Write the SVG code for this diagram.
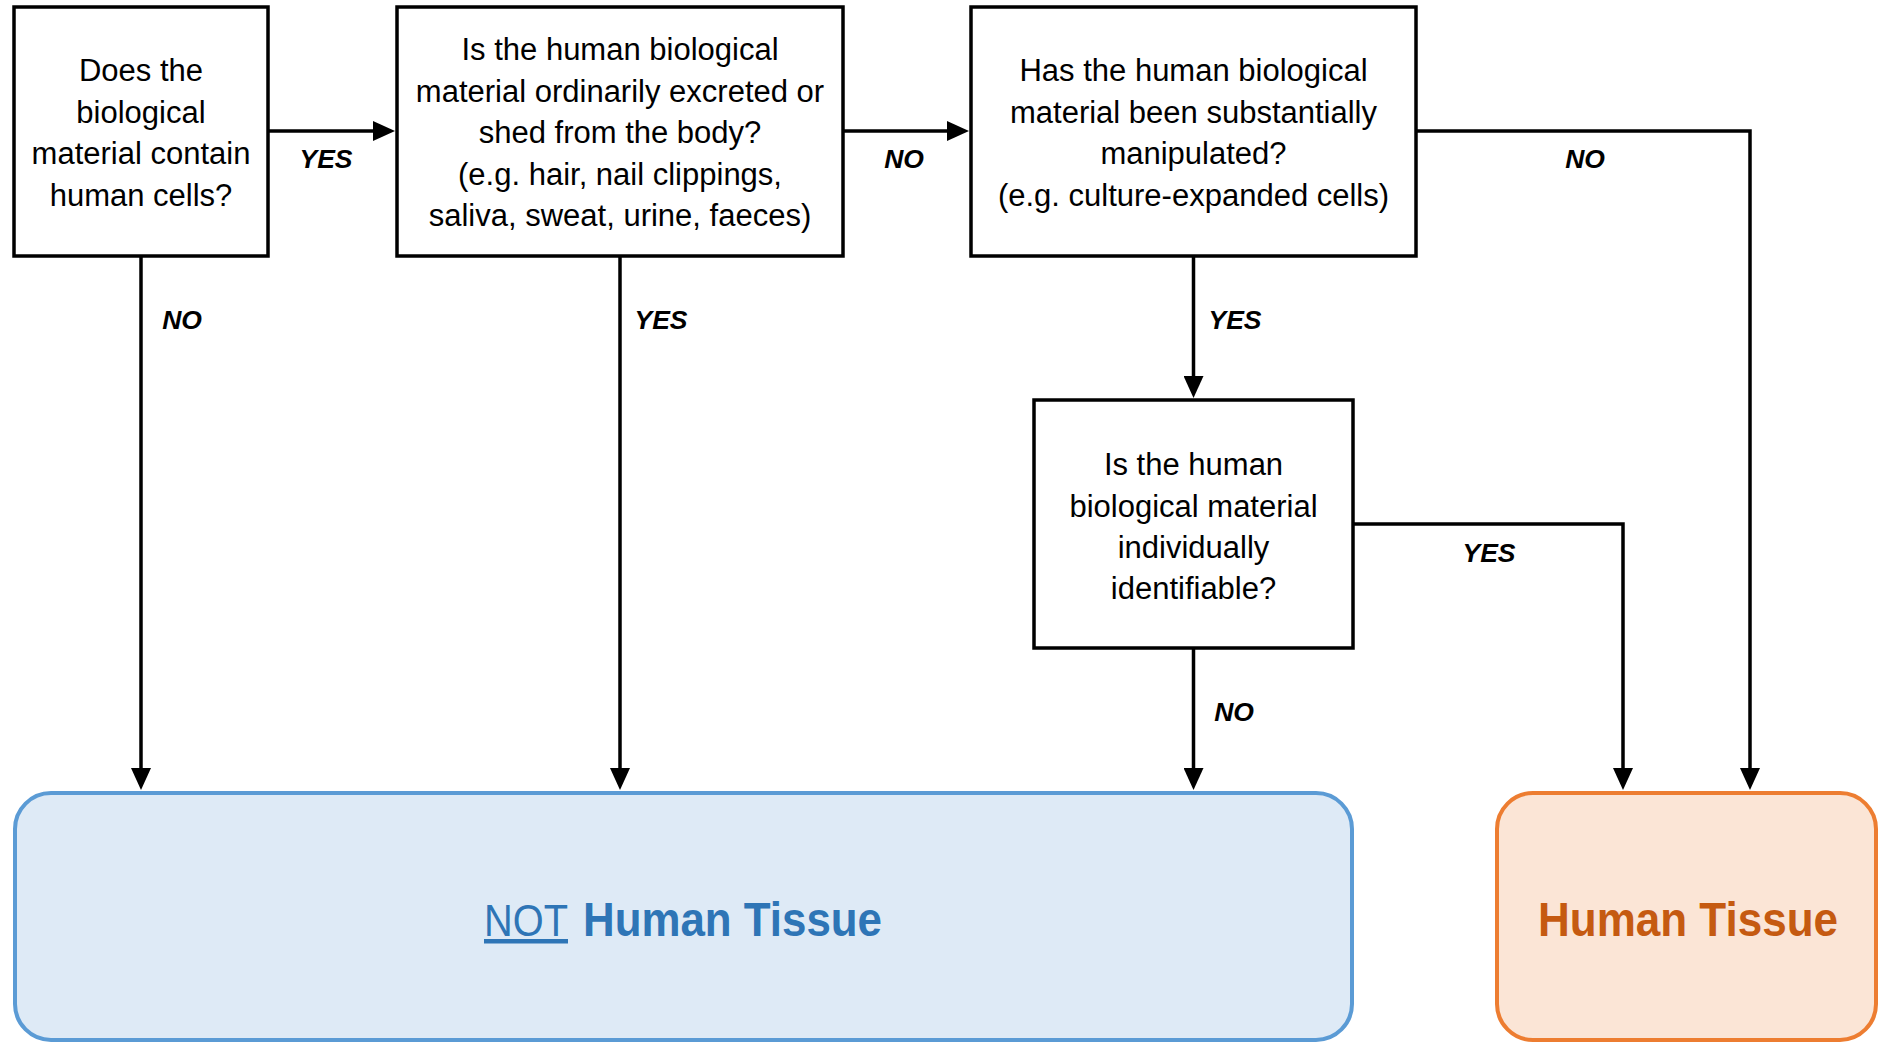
<svg xmlns="http://www.w3.org/2000/svg" width="1881" height="1043" viewBox="0 0 1881 1043">
<style>
.box{fill:#fff;stroke:#000;stroke-width:3.5}
.t{font-family:"Liberation Sans",Arial,sans-serif;font-size:31px;fill:#000;text-anchor:middle}
.lbl{font-family:"Liberation Sans",Arial,sans-serif;font-size:26.5px;font-weight:bold;font-style:italic;fill:#000;text-anchor:middle}
.conn{fill:none;stroke:#000;stroke-width:3.5;marker-end:url(#ah)}
.big{font-family:"Liberation Sans",Arial,sans-serif;font-size:48px;font-weight:bold}
</style>
<defs>
<marker id="ah" viewBox="0 0 22 20" refX="12" refY="10" markerWidth="22" markerHeight="20" markerUnits="userSpaceOnUse" orient="auto">
<path d="M0,0 L22,10 L0,20 z" fill="#000"/>
</marker>
</defs>
<rect width="1881" height="1043" fill="#fff"/>
<g id="connectors">
<path class="conn" d="M268,131 H385"/>
<path class="conn" d="M843,131 H959"/>
<path class="conn" d="M1416,131 H1750 V780"/>
<path class="conn" d="M141,256 V780"/>
<path class="conn" d="M620,256 V780"/>
<path class="conn" d="M1193.5,256 V388"/>
<path class="conn" d="M1193.5,648 V780"/>
<path class="conn" d="M1353,524 H1623 V780"/>
<text class="lbl" x="326" y="168">YES</text>
<text class="lbl" x="904" y="168">NO</text>
<text class="lbl" x="1585" y="168">NO</text>
<text class="lbl" x="182" y="329">NO</text>
<text class="lbl" x="661" y="329">YES</text>
<text class="lbl" x="1235" y="329">YES</text>
<text class="lbl" x="1489" y="562">YES</text>
<text class="lbl" x="1234" y="721">NO</text>
</g>
<g id="q1">
<rect class="box" x="14" y="7" width="254" height="249"/>
<text class="t" x="141" y="81">Does the</text>
<text class="t" x="141" y="122.5">biological</text>
<text class="t" x="141" y="164">material contain</text>
<text class="t" x="141" y="205.5">human cells?</text>
</g>
<g id="q2">
<rect class="box" x="397" y="7" width="446" height="249"/>
<text class="t" x="620" y="60">Is the human biological</text>
<text class="t" x="620" y="101.5">material ordinarily excreted or</text>
<text class="t" x="620" y="143">shed from the body?</text>
<text class="t" x="620" y="184.5">(e.g. hair, nail clippings,</text>
<text class="t" x="620" y="226">saliva, sweat, urine, faeces)</text>
</g>
<g id="q3">
<rect class="box" x="971" y="7" width="445" height="249"/>
<text class="t" x="1193.5" y="81">Has the human biological</text>
<text class="t" x="1193.5" y="122.5">material been substantially</text>
<text class="t" x="1193.5" y="164">manipulated?</text>
<text class="t" x="1193.5" y="205.5">(e.g. culture-expanded cells)</text>
</g>
<g id="q4">
<rect class="box" x="1034" y="400" width="319" height="248"/>
<text class="t" x="1193.5" y="475">Is the human</text>
<text class="t" x="1193.5" y="516.5">biological material</text>
<text class="t" x="1193.5" y="558">individually</text>
<text class="t" x="1193.5" y="599">identifiable?</text>
</g>
<g id="not-human-tissue">
<rect x="15" y="793" width="1337" height="247" rx="36" ry="36" fill="#DEEAF6" stroke="#5B9BD5" stroke-width="4"/>
<text x="484" y="936" font-family="Liberation Sans, Arial, sans-serif" font-size="45" fill="#2E75B6" text-decoration="underline" textLength="84" lengthAdjust="spacingAndGlyphs">NOT</text>
<text class="big" x="583" y="936" fill="#2E75B6" textLength="299" lengthAdjust="spacingAndGlyphs">Human Tissue</text>
</g>
<g id="human-tissue">
<rect x="1497" y="793" width="379" height="247" rx="36" ry="36" fill="#FBE5D6" stroke="#ED7D31" stroke-width="4"/>
<text class="big" x="1538" y="936" fill="#C55A11" textLength="300" lengthAdjust="spacingAndGlyphs">Human Tissue</text>
</g>
</svg>
